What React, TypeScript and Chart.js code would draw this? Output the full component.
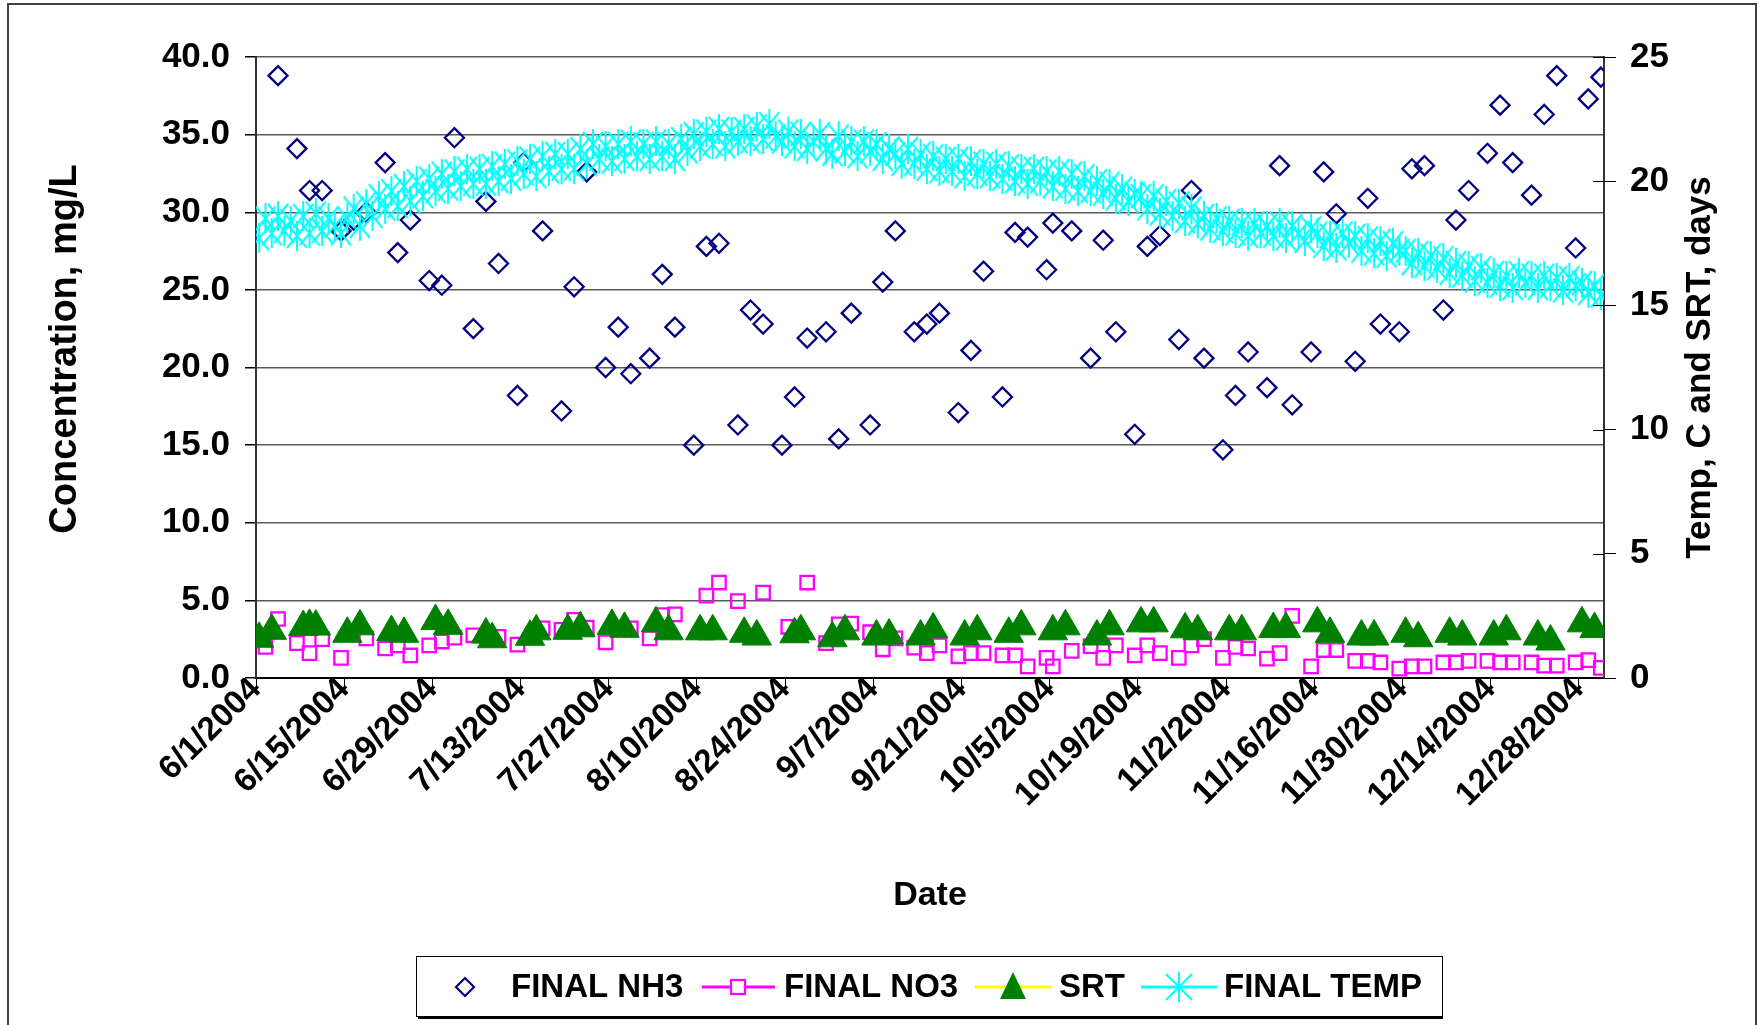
import React, { useEffect, useRef } from "react";
import { Chart, registerables } from "chart.js";

Chart.register(...registerables);

// ---------------- DATA ----------------
// x positions are days since 6/1/2004
const xTickDays = [0, 14, 28, 42, 56, 70, 84, 98, 112, 126, 140, 154, 168, 182, 196, 210];
const xTickLabels = [
  "6/1/2004", "6/15/2004", "6/29/2004", "7/13/2004", "7/27/2004", "8/10/2004", "8/24/2004", "9/7/2004",
  "9/21/2004", "10/5/2004", "10/19/2004", "11/2/2004", "11/16/2004", "11/30/2004", "12/14/2004", "12/28/2004",
];
const leftTicks = [0, 5, 10, 15, 20, 25, 30, 35, 40];
const rightTicks = [0, 5, 10, 15, 20, 25];

const nh3Days = [3, 6, 8, 10, 13, 15, 17, 20, 22, 24, 27, 29, 31, 34, 36, 38, 41, 42, 45, 48, 50, 52, 55, 57, 59, 62, 64, 66, 69, 71, 73, 76, 78, 80, 83, 85, 87, 90, 92, 94, 97, 99, 101, 104, 106, 108, 111, 113, 115, 118, 120, 122, 125, 126, 129, 132, 134, 136, 139, 141, 143, 146, 148, 150, 153, 155, 157, 160, 162, 164, 167, 169, 171, 174, 176, 178, 181, 183, 185, 188, 190, 192, 195, 197, 199, 202, 204, 206, 209, 211, 213];
const nh3Values = [38.8, 34.1, 31.4, 31.4, 28.8, 29.5, 30.0, 33.2, 27.4, 29.5, 25.6, 25.3, 34.8, 22.5, 30.7, 26.7, 18.2, 33.2, 28.8, 17.2, 25.2, 32.6, 20.0, 22.6, 19.6, 20.6, 26.0, 22.6, 15.0, 27.8, 28.0, 16.3, 23.7, 22.8, 15.0, 18.1, 21.9, 22.3, 15.4, 23.5, 16.3, 25.5, 28.8, 22.3, 22.8, 23.5, 17.1, 21.1, 26.2, 18.1, 28.7, 28.4, 26.3, 29.3, 28.8, 20.6, 28.2, 22.3, 15.7, 27.8, 28.5, 21.8, 31.4, 20.6, 14.7, 18.2, 21.0, 18.7, 33.0, 17.6, 21.0, 32.6, 29.9, 20.4, 30.9, 22.8, 22.3, 32.8, 33.0, 23.7, 29.5, 31.4, 33.8, 36.9, 33.2, 31.1, 36.3, 38.8, 27.7, 37.3, 38.7];

const no3Days = [1, 3, 6, 8, 10, 13, 17, 20, 22, 24, 27, 29, 31, 34, 38, 41, 45, 48, 50, 52, 55, 59, 62, 64, 66, 71, 73, 76, 80, 84, 87, 90, 92, 94, 97, 99, 101, 104, 106, 108, 111, 113, 115, 118, 120, 122, 125, 126, 129, 132, 134, 136, 139, 141, 143, 146, 148, 150, 153, 155, 157, 160, 162, 164, 167, 169, 171, 174, 176, 178, 181, 183, 185, 188, 190, 192, 195, 197, 199, 202, 204, 206, 209, 211, 213];
const no3Values = [2.0, 3.8, 2.25, 1.6, 2.5, 1.3, 2.55, 1.9, 2.1, 1.45, 2.1, 2.35, 2.6, 2.75, 2.65, 2.15, 3.2, 3.1, 3.75, 3.25, 2.3, 3.2, 2.55, 4.05, 4.1, 5.3, 6.15, 4.95, 5.5, 3.3, 6.15, 2.25, 3.45, 3.5, 2.95, 1.85, 2.55, 1.95, 1.6, 2.1, 1.4, 1.6, 1.6, 1.45, 1.45, 0.75, 1.3, 0.75, 1.75, 2.05, 1.3, 2.1, 1.45, 2.1, 1.6, 1.3, 2.1, 2.5, 1.3, 2.0, 1.9, 1.25, 1.6, 4.0, 0.75, 1.8, 1.8, 1.1, 1.1, 1.0, 0.6, 0.75, 0.75, 1.0, 1.0, 1.1, 1.1, 1.0, 1.0, 1.0, 0.8, 0.8, 1.0, 1.15, 0.65];

const srtDays = [0, 2, 7, 8, 9, 14, 16, 21, 23, 28, 30, 36, 37, 43, 44, 49, 51, 56, 58, 63, 65, 70, 72, 77, 79, 85, 86, 91, 93, 98, 100, 105, 107, 112, 114, 119, 121, 126, 128, 133, 135, 140, 142, 147, 149, 154, 156, 161, 163, 168, 170, 175, 177, 182, 184, 189, 191, 196, 198, 203, 205, 210, 212];
const srtValues = [1.58, 1.9, 2.05, 2.1, 2.07, 1.78, 2.08, 1.85, 1.78, 2.29, 2.1, 1.75, 1.56, 1.66, 1.88, 1.9, 2.0, 2.1, 1.98, 2.2, 1.88, 1.88, 1.88, 1.78, 1.67, 1.76, 1.88, 1.6, 1.88, 1.67, 1.71, 1.67, 1.96, 1.67, 1.88, 1.78, 2.08, 1.88, 2.08, 1.67, 2.08, 2.2, 2.2, 1.96, 1.88, 1.88, 1.88, 1.97, 1.97, 2.2, 1.78, 1.67, 1.67, 1.78, 1.6, 1.78, 1.67, 1.67, 1.88, 1.67, 1.47, 2.2, 1.97];

// daily final temperature (C), starting 6/1/2004
const tempValues = [
  17.7, 18.5, 17.9, 18.6, 18.0, 18.4, 17.8,
  18.6, 17.9, 18.7, 18.0, 18.5, 18.2, 17.9,
  18.5, 18.9, 18.2, 19.1, 18.6, 19.4, 18.9,
  19.6, 19.0, 19.8, 19.2, 20.0, 19.4, 20.1,
  19.6, 20.3, 19.7, 20.4, 19.8, 20.5, 19.9,
  20.5, 19.9, 20.6, 20.0, 20.7, 20.1, 20.8,
  20.3, 20.9, 20.2, 21.0, 20.4, 21.1, 20.5,
  21.1, 20.5, 21.3, 20.7, 21.5, 20.9, 21.4,
  20.8, 21.5, 20.9, 21.6, 21.0, 21.5, 20.9,
  21.6, 21.0, 21.5, 20.9, 21.7, 21.2, 21.9,
  21.4, 22.0, 21.5, 22.1, 21.4, 22.0, 21.6,
  22.1, 21.6, 22.2, 21.7, 22.3, 21.8, 21.6,
  22.0, 21.4, 21.9, 21.3, 21.6, 21.9, 21.3,
  21.1, 21.8, 21.2, 21.6, 21.0, 21.6, 21.2,
  21.5, 20.9, 21.3, 21.1, 20.7, 21.3, 20.7,
  21.1, 20.5, 21.0, 20.4, 20.9, 20.4, 20.9,
  20.2, 20.8, 20.3, 20.7, 20.2, 20.7, 20.1,
  20.6, 20.0, 20.5, 19.9, 20.5, 20.0, 20.4,
  19.8, 20.4, 19.7, 20.3, 19.6, 20.2, 19.6,
  20.0, 19.5, 19.9, 19.3, 19.7, 19.2, 19.5,
  19.4, 18.9, 19.4, 18.7, 19.2, 18.6, 19.1,
  18.4, 18.9, 18.3, 18.6, 18.1, 18.5, 18.0,
  18.4, 17.9, 18.3, 17.8, 18.3, 17.9, 18.2,
  17.8, 18.3, 17.7, 18.2, 17.9, 17.6, 18.1,
  17.9, 17.4, 17.8, 17.3, 17.9, 17.5, 17.8,
  17.2, 17.7, 17.1, 17.6, 17.0, 17.5, 17.2,
  17.2, 16.7, 17.1, 16.6, 17.0, 16.5, 16.9,
  16.3, 16.7, 16.2, 16.6, 16.0, 16.5, 15.9,
  16.3, 15.8, 16.2, 15.7, 16.3, 15.9, 16.2,
  15.7, 16.2, 15.8, 16.1, 15.6, 16.1, 15.8,
  15.9, 15.5, 15.8, 15.4,
];

// ---------------- LAYOUT / STYLE ----------------
const W = 1762;
const H = 1025;
const PLOT_LEFT = 256;
const PLOT_RIGHT = 1604;
const PLOT_TOP = 57;
const PLOT_BOTTOM = 678;
const FONT = '"Liberation Sans", Arial, Helvetica, sans-serif';
const DAY_CENTER = 0.5; // date-axis points sit in the middle of their day

const toPoints = (days: number[], vals: number[]) => days.map((d, i) => ({ x: d + DAY_CENTER, y: vals[i] }));

function makeStarMarker(): HTMLCanvasElement {
  const c = document.createElement("canvas");
  c.width = 24;
  c.height = 30;
  const g = c.getContext("2d")!;
  g.strokeStyle = "#00FFFF";
  g.lineWidth = 2;
  g.beginPath();
  g.moveTo(2, 3);
  g.lineTo(22, 27);
  g.moveTo(22, 3);
  g.lineTo(2, 27);
  g.moveTo(12, 0);
  g.lineTo(12, 30);
  g.stroke();
  return c;
}

const decorPlugin = {
  id: "decor",
  beforeDraw(chart: any) {
    const ctx = chart.ctx;
    ctx.save();
    ctx.fillStyle = "#ffffff";
    ctx.fillRect(0, 0, W, H);
    ctx.strokeStyle = "#404040";
    ctx.lineWidth = 2;
    ctx.strokeRect(8, 4, 1748, 1060);
    ctx.restore();
  },
  afterDraw(chart: any) {
    const ctx = chart.ctx;
    const y1 = chart.scales.y1;
    ctx.save();
    // inner half of right-axis tick marks (cross ticks)
    ctx.strokeStyle = "#000";
    ctx.lineWidth = 1;
    rightTicks.forEach((v) => {
      const py = Math.round(y1.getPixelForValue(v)) + 0.5;
      ctx.beginPath();
      ctx.moveTo(PLOT_RIGHT - 11, py);
      ctx.lineTo(PLOT_RIGHT, py);
      ctx.stroke();
    });

    // axis titles
    ctx.fillStyle = "#000";
    ctx.textAlign = "center";
    ctx.textBaseline = "middle";
    ctx.save();
    ctx.font = `bold 38px ${FONT}`;
    ctx.translate(66, 349);
    ctx.rotate(-Math.PI / 2);
    ctx.fillText("Concentration, mg/L", 0, 0);
    ctx.restore();
    ctx.save();
    ctx.font = `bold 35px ${FONT}`;
    ctx.translate(1700, (PLOT_TOP + PLOT_BOTTOM) / 2);
    ctx.rotate(-Math.PI / 2);
    ctx.fillText("Temp, C and SRT, days", 0, 0);
    ctx.restore();
    ctx.font = `bold 34px ${FONT}`;
    ctx.fillText("Date", (PLOT_LEFT + PLOT_RIGHT) / 2, 896);

    // legend
    const ly = 987;
    ctx.fillStyle = "#fff";
    ctx.fillRect(417, 957, 1025, 59);
    ctx.strokeStyle = "#000";
    ctx.lineWidth = 1;
    ctx.strokeRect(416.5, 956.5, 1026, 60);
    ctx.lineWidth = 2;
    ctx.beginPath();
    ctx.moveTo(418, 1018);
    ctx.lineTo(1443, 1018);
    ctx.stroke();

    // NH3 diamond
    ctx.strokeStyle = "#000080";
    ctx.lineWidth = 2.2;
    ctx.beginPath();
    ctx.moveTo(465 - 9, ly);
    ctx.lineTo(465, ly - 9);
    ctx.lineTo(465 + 9, ly);
    ctx.lineTo(465, ly + 9);
    ctx.closePath();
    ctx.stroke();

    // NO3 line + square
    ctx.strokeStyle = "#FF00FF";
    ctx.lineWidth = 3;
    ctx.beginPath();
    ctx.moveTo(702, ly);
    ctx.lineTo(775, ly);
    ctx.stroke();
    ctx.fillStyle = "#fff";
    ctx.fillRect(731, ly - 7, 14, 14);
    ctx.lineWidth = 2.2;
    ctx.strokeRect(731, ly - 7, 14, 14);

    // SRT line + triangle
    ctx.strokeStyle = "#FFFF00";
    ctx.lineWidth = 3;
    ctx.beginPath();
    ctx.moveTo(975, ly);
    ctx.lineTo(1052, ly);
    ctx.stroke();
    ctx.fillStyle = "#008000";
    ctx.beginPath();
    ctx.moveTo(1013, ly - 15);
    ctx.lineTo(1013 + 13, ly + 12);
    ctx.lineTo(1013 - 13, ly + 12);
    ctx.closePath();
    ctx.fill();

    // TEMP line + star
    ctx.strokeStyle = "#00FFFF";
    ctx.lineWidth = 3;
    ctx.beginPath();
    ctx.moveTo(1141, ly);
    ctx.lineTo(1217, ly);
    ctx.stroke();
    ctx.lineWidth = 2;
    ctx.beginPath();
    ctx.moveTo(1166, ly - 13);
    ctx.lineTo(1192, ly + 13);
    ctx.moveTo(1192, ly - 13);
    ctx.lineTo(1166, ly + 13);
    ctx.moveTo(1179, ly - 15);
    ctx.lineTo(1179, ly + 15);
    ctx.stroke();

    ctx.fillStyle = "#000";
    ctx.font = `bold 33px ${FONT}`;
    ctx.textAlign = "left";
    ctx.textBaseline = "middle";
    ctx.fillText("FINAL NH3", 511, ly + 1);
    ctx.fillText("FINAL NO3", 784, ly + 1);
    ctx.fillText("SRT", 1059, ly + 1);
    ctx.fillText("FINAL TEMP", 1224, ly + 1);
    ctx.restore();
  },
};

export default function App() {
  const ref = useRef<HTMLCanvasElement | null>(null);

  useEffect(() => {
    document.body.style.margin = "0";
    const canvas = ref.current;
    if (!canvas) return;
    const star = makeStarMarker();

    const chart = new Chart(canvas, {
      type: "scatter",
      data: {
        datasets: [
          {
            label: "FINAL NH3",
            data: toPoints(nh3Days, nh3Values),
            yAxisID: "y",
            pointStyle: "rectRot",
            pointRadius: 9.5,
            borderColor: "#000080",
            backgroundColor: "rgba(0,0,0,0)",
            borderWidth: 2.3,
            order: 4,
          },
          {
            label: "FINAL NO3",
            data: toPoints(no3Days, no3Values),
            yAxisID: "y",
            pointStyle: "rect",
            pointRadius: 9.5,
            borderColor: "#FF00FF",
            backgroundColor: "rgba(0,0,0,0)",
            borderWidth: 2.3,
            order: 3,
          },
          {
            label: "SRT",
            data: toPoints(srtDays, srtValues),
            yAxisID: "y1",
            pointStyle: "triangle",
            pointRadius: 17,
            borderColor: "#008000",
            backgroundColor: "#008000",
            borderWidth: 1,
            order: 2,
          },
          {
            label: "FINAL TEMP",
            data: tempValues.map((v, i) => ({ x: i + DAY_CENTER, y: v })),
            yAxisID: "y1",
            pointStyle: star as any,
            pointRadius: 12,
            borderColor: "#00FFFF",
            backgroundColor: "#00FFFF",
            order: 1,
          },
        ],
      },
      options: {
        animation: false,
        responsive: false,
        events: [],
        layout: { padding: { top: PLOT_TOP, left: 0, right: 0, bottom: 0 } },
        plugins: { legend: { display: false }, tooltip: { enabled: false }, title: { display: false } },
        scales: {
          x: {
            type: "linear",
            min: 0,
            max: 214,
            afterBuildTicks: (s: any) => {
              s.ticks = xTickDays.map((v) => ({ value: v }));
            },
            afterFit: (s: any) => {
              s.height = H - PLOT_BOTTOM;
            },
            ticks: {
              autoSkip: false,
              maxRotation: 45,
              minRotation: 45,
              padding: -18,
              color: "#000",
              font: { family: FONT, size: 33, weight: "bold" },
              callback: (v: any) => {
                const i = xTickDays.indexOf(Number(v));
                return i >= 0 ? xTickLabels[i] : "";
              },
            },
            grid: { drawOnChartArea: false, tickLength: 10, color: "#000", lineWidth: 1 },
            border: { color: "#000", width: 2 },
          },
          y: {
            position: "left",
            min: 0,
            max: 40,
            afterBuildTicks: (s: any) => {
              s.ticks = leftTicks.map((v) => ({ value: v }));
            },
            afterFit: (s: any) => {
              s.width = PLOT_LEFT;
            },
            ticks: {
              padding: 15,
              color: "#000",
              font: { family: FONT, size: 35, weight: "bold" },
              callback: (v: any) => Number(v).toFixed(1),
            },
            grid: { color: "#5a5a5a", lineWidth: 1.5, tickLength: 11, tickColor: "#000" },
            border: { color: "#333", width: 2 },
          },
          y1: {
            position: "right",
            min: 0,
            max: 25,
            afterBuildTicks: (s: any) => {
              s.ticks = rightTicks.map((v) => ({ value: v }));
            },
            afterFit: (s: any) => {
              s.width = W - PLOT_RIGHT;
            },
            ticks: {
              padding: 14,
              color: "#000",
              font: { family: FONT, size: 35, weight: "bold" },
              callback: (v: any) => String(v),
            },
            grid: { drawOnChartArea: false, tickLength: 12, color: "#000", lineWidth: 1 },
            border: { color: "#333", width: 2 },
          },
        },
      },
      plugins: [decorPlugin],
    } as any);

    return () => chart.destroy();
  }, []);

  return (
    <canvas
      ref={ref}
      width={W}
      height={H}
      style={{ display: "block", width: W + "px", height: H + "px" }}
    />
  );
}
